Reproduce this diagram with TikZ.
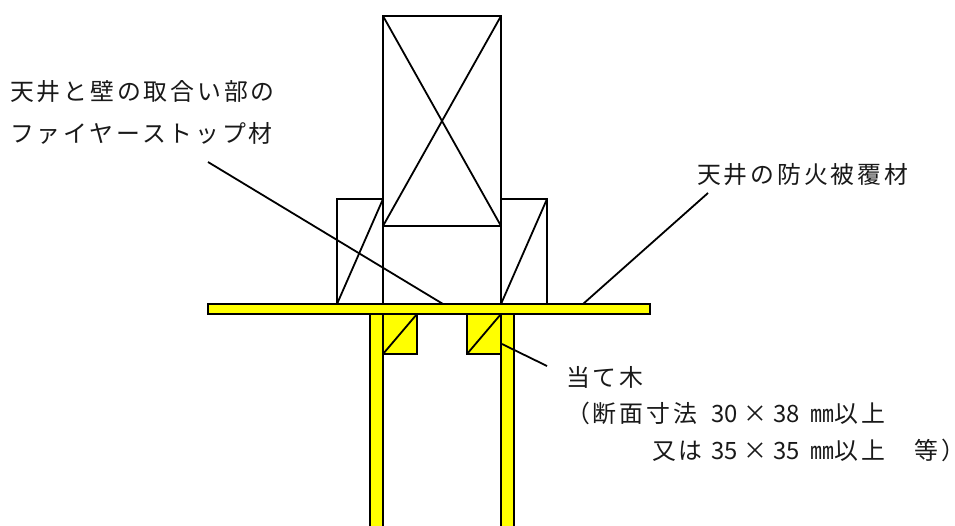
\documentclass[tikz,border=0pt]{standalone}
\usepackage{fontspec}
\setmainfont{Noto Sans CJK JP}[LetterSpace=12]
\newfontfamily\tight{Noto Sans CJK JP}
\newcommand{\lat}[1]{{\tight #1}}
\newcommand{\gap}[1]{\hspace{#1pt}}
\definecolor{wy}{RGB}{255,255,0}
\tikzset{
  part/.style={draw=black,line width=1.35pt,line join=miter},
  yel/.style={part,fill=wy},
  lead/.style={draw=black,line width=1.35pt},
  lab/.style={inner sep=0pt,anchor=west,font=\fontsize{17.9pt}{20pt}\selectfont,text=black!90}
}
\begin{document}
\begin{tikzpicture}[x=0.75pt,y=-0.75pt]
\useasboundingbox (0,0) rectangle (955,525);
% walls and plate
\draw[yel] (370,314) rectangle (383,530);
\draw[yel] (501,314) rectangle (514,530);
\draw[yel] (383,314) rectangle (417,354);
\draw[yel] (467,314) rectangle (501,354);
\draw[part] (383,354) -- (417,314);
\draw[part] (467,354) -- (501,314);
\draw[yel] (208,304) rectangle (650,314);
% lumber
\draw[part] (383,16) rectangle (501,226);
\draw[part] (383,16) -- (501,226);
\draw[part] (501,16) -- (383,226);
\draw[part] (337,199) rectangle (383,304);
\draw[part] (337,304) -- (383,199);
\draw[part] (501,199) rectangle (547,304);
\draw[part] (501,304) -- (547,199);
\draw[part] (383,226) -- (383,304);
\draw[part] (501,226) -- (501,304);
% labels
\node[lab] (t1) at (10,92) {天井と壁の取合い部の};
\node[lab] (t2) at (10,133) {ファイヤーストップ材};
\node[lab] (t3) at (697,175) {天井の防火被覆材};
\node[lab] (t4) at (566,377) {当て木};
\node[lab] (t5) at (566,413) {（断面寸法 \gap{4.5}\lat{30}\gap{4.5}×\gap{4.5}\lat{38} \gap{2}\lat{㎜}以上};
\node[lab] (t6) at (652,450) {又は \lat{35}\gap{4.5}×\gap{4.5}\lat{35} \gap{2}\lat{㎜}以上　等）\gap{-14}};
% leaders
\coordinate (a1) at (208,162); \coordinate (a2) at (443,304);
\coordinate (b1) at (708,193); \coordinate (b2) at (583,304);
\coordinate (c1) at (547,366); \coordinate (c2) at (502,344);
\draw[lead] (a1) -- (a2);
\draw[lead] (b1) -- (b2);
\draw[lead] (c1) -- (c2);
\end{tikzpicture}
\end{document}
